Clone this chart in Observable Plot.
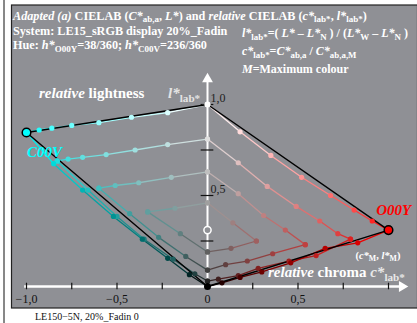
<!DOCTYPE html>
<html><head><meta charset="utf-8">
<script src="https://cdn.jsdelivr.net/npm/d3@7"></script>
<script src="https://cdn.jsdelivr.net/npm/@observablehq/plot@0.6"></script>
<style>body{margin:0;background:#fff;} svg{display:block}</style>
</head><body><div id="chart"></div>
<script>
// ---- data (relative chroma c*, relative lightness l*) ----
const xTicks = [-1, -0.75, -0.5, -0.25, 0, 0.25, 0.5, 0.75, 1];
const xTickValues = [-1, -0.5, 0, 0.5];
const xTickLabels = ["−1,0", "−0,5", "0", "0,5"];
const yTicks = [0.25, 0.5, 0.75, 1];
const yTickValues = [1, 0.5];
const yTickLabels = ["1,0", "0,5"];

const hueNames = ["O00Y", "C00V"];
const hueRGB = [[255, 0, 0], [0, 255, 255]];

// rows 0..8 : rows 0-3 start at the grey axis and run to the max colour side,
// row 4 is the mid grey, rows 5-8 start at the dark greys
const redC = [
  [0, 0.18, 0.35, 0.52, 0.68, 0.81, 0.91, 1.0],
  [0, 0.17, 0.33, 0.49, 0.62, 0.72, 0.79],
  [0, 0.17, 0.31, 0.43, 0.54],
  [0, 0.14, 0.27],
  [0],
  [0, 0.13, 0.27],
  [0, 0.10, 0.22, 0.36, 0.54],
  [0, 0.06, 0.17, 0.28, 0.45, 0.60, 0.79],
  [0, 0.08, 0.18, 0.30, 0.46, 0.65, 0.83, 1.0]
];
const redL = [
  [1.0, 0.85, 0.72, 0.60, 0.50, 0.42, 0.36, 0.31],
  [0.81, 0.68, 0.55, 0.44, 0.36, 0.29, 0.26],
  [0.63, 0.51, 0.39, 0.31, 0.23],
  [0.46, 0.35, 0.25],
  [0.31],
  [0.19, 0.21, 0.25],
  [0.09, 0.12, 0.14, 0.18, 0.23],
  [0.03, 0.04, 0.06, 0.10, 0.14, 0.17, 0.26],
  [0, 0.02, 0.05, 0.08, 0.13, 0.21, 0.24, 0.31]
];
const cyanC = [
  [0, -0.22, -0.42, -0.60, -0.75, -0.86, -0.93, -1.0],
  [0, -0.22, -0.40, -0.56, -0.69, -0.77, -0.83],
  [0, -0.20, -0.38, -0.51, -0.60],
  [0, -0.18, -0.33],
  [0],
  [0, -0.15, -0.33],
  [0, -0.12, -0.27, -0.43, -0.60],
  [0, -0.07, -0.19, -0.35, -0.50, -0.66, -0.83],
  [0, -0.10, -0.22, -0.36, -0.52, -0.69, -0.85, -1.0]
];
const cyanL = [
  [1.0, 0.955, 0.93, 0.90, 0.885, 0.87, 0.86, 0.846],
  [0.81, 0.78, 0.75, 0.725, 0.71, 0.70, 0.69],
  [0.63, 0.60, 0.57, 0.555, 0.54],
  [0.46, 0.43, 0.41],
  [0.31],
  [0.19, 0.29, 0.41],
  [0.09, 0.165, 0.27, 0.40, 0.54],
  [0.03, 0.07, 0.15, 0.26, 0.385, 0.53, 0.69],
  [0, 0.065, 0.155, 0.26, 0.385, 0.53, 0.675, 0.846]
];

// ---- build tables ----
const FONT = "'Liberation Serif', 'DejaVu Serif', serif";
const BG = "#8f9095";
function pointColor(M, j, i, K) {
  const g = 255 * (1 - j / 8);
  if (K === 0) return d3.rgb(g, g, g).formatHex();
  const e = j <= 4 ? j : 8 - j;
  const end = M.map(v => 255 * e / 8 + (1 - 2 * e / 8) * v);
  const t = i / K;
  return d3.rgb(g * (1 - t) + end[0] * t, g * (1 - t) + end[1] * t, g * (1 - t) + end[2] * t).formatHex();
}
const hues = [[redC, redL], [cyanC, cyanL]];
const points = [], segments = [], outlines = [], maxima = [];
hues.forEach(([C, L], h) => {
  C.forEach((row, j) => {
    const K = row.length - 1;
    row.forEach((c, i) => {
      const p = {c, l: L[j][i], color: pointColor(hueRGB[h], j, i, K)};
      points.push(p);
      if (i > 0) {
        const q = points[points.length - 2];
        segments.push({c1: q.c, l1: q.l, c2: p.c, l2: p.l,
          color: d3.interpolateRgb(q.color, p.color)(0.5)});
      }
    });
  });
  const W = {c: C[0][0], l: L[0][0]};
  const M = {c: C[0][C[0].length - 1], l: L[0][L[0].length - 1], color: d3.rgb(...hueRGB[h]).formatHex()};
  const N = {c: C[8][0], l: L[8][0]};
  outlines.push(...[W, M, N].map(p => ({...p, hue: hueNames[h]})));
  maxima.push(M);
});
const whitePt = {c: redC[0][0], l: redL[0][0]};
const blackPt = {c: redC[8][0], l: redL[8][0]};
const lM = {c: 0, l: maxima[0].l};

const svg = Plot.plot({
  width: 417, height: 323,
  marginLeft: 0, marginRight: 0, marginTop: 0, marginBottom: 0,
  x: {domain: [-207 / 181, 210 / 181], axis: null},
  y: {domain: [-37 / 182, 286 / 182], axis: null},
  style: {fontFamily: FONT, background: "white"},
  marks: [
    // axes
    Plot.ruleY([0], {x1: -1.01, x2: 1.07, stroke: "white", strokeWidth: 2.3}),
    Plot.ruleX([0], {y1: 0, y2: 1.13, stroke: "white", strokeWidth: 2}),
    Plot.dot([{c: 1.075, l: 0}], {x: "c", y: "l", symbol: "triangle", rotate: 90, r: 4, fill: "white"}),
    Plot.dot([{c: 0, l: 1.14}], {x: "c", y: "l", symbol: "triangle", r: 4, fill: "white"}),
    Plot.ruleX(xTicks, {y1: -0.018, y2: 0.018, stroke: "#111", strokeWidth: 1.2}),
    Plot.ruleY(yTicks, {x1: -0.035, x2: 0.035, stroke: "#111", strokeWidth: 1.2}),
    Plot.text(xTickValues, {x: d => d, y: -0.068, text: (d, i) => xTickLabels[i], fontSize: 12, fill: "#111"}),
    Plot.text(yTickValues, {x: 0.016, y: d => d + 0.036, text: (d, i) => yTickLabels[i], fontSize: 12, fill: "#222", textAnchor: "start"}),
    // grid lines
    Plot.link(segments, {x1: "c1", y1: "l1", x2: "c2", y2: "l2", stroke: d => d.color, strokeWidth: 1.3}),
    Plot.line(outlines, {x: "c", y: "l", z: "hue", stroke: "black", strokeWidth: 1.4}),
    Plot.dot(points, {x: "c", y: "l", fill: d => d.color, r: 2.6}),
    Plot.dot([lM], {x: "c", y: "l", r: 3.6, fill: BG, stroke: "white", strokeWidth: 1.5}),
    Plot.dot([whitePt], {x: "c", y: "l", r: 3, fill: "white"}),
    Plot.dot([blackPt], {x: "c", y: "l", r: 3.5, fill: "black"}),
    Plot.dot(maxima, {x: "c", y: "l", r: 4.3, fill: d => d.color, stroke: "black", strokeWidth: 1.5})
  ]
});
document.getElementById("chart").appendChild(svg);

// ---- background panel and rich text ----
const S = d3.select(svg);
S.insert("rect", ":first-child").attr("x", 11.5).attr("y", 5).attr("width", 406).attr("height", 303)
  .attr("fill", BG).attr("stroke", "#222").attr("stroke-width", 1.2);
S.insert("line", ":first-child").attr("x1", 4).attr("x2", 4).attr("y1", 0).attr("y2", 323)
  .attr("stroke", "#111").attr("stroke-width", 1);
const sx = svg.scale("x"), sy = svg.scale("y");

function rich(x, y, parts, {size = 12, fill = "white", weight = "bold", anchor = "start", drop = 0.28} = {}) {
  const t = S.append("text").attr("x", x).attr("y", y).attr("font-family", FONT)
    .attr("font-size", size).attr("font-weight", weight).attr("fill", fill).attr("text-anchor", anchor);
  let shift = 0;
  for (const [s, st = "", col] of parts) {
    const f = st.split(" ");
    const ts = t.append("tspan").text(s);
    const target = f.includes("sub") ? size * drop : 0;
    if (target !== shift) { ts.attr("dy", target - shift); shift = target; }
    if (f.includes("sub")) ts.attr("font-size", size * 0.74);
    if (f.includes("i")) ts.attr("font-style", "italic");
    if (col) ts.attr("fill", col);
  }
  return t;
}
// title block
rich(13, 19.5, [["Adapted (a)", "i"], [" CIELAB ("], ["C*", "i"], ["ab,a", "sub"], [", "], ["L*", "i"], [") and "],
  ["relative", "i"], [" CIELAB ("], ["c*", "i"], ["lab*", "sub"], [", "], ["l*", "i"], ["lab*", "sub"], [")"]], {size: 12.2, drop: 0.22});
rich(13, 34.5, [["System: LE15_sRGB display 20%_Fadin"]], {size: 12.2});
rich(13, 48.5, [["Hue: "], ["h*", "i"], ["O00Y", "sub"], ["=38/360; "], ["h*", "i"], ["C00V", "sub"], ["=236/360"]], {size: 12.2});
rich(242, 37, [["l*", "i"], ["lab*", "sub"], ["=( "], ["L*", "i"], [" – "], ["L*", "i"], ["N", "sub"], [" ) / ("],
  ["L*", "i"], ["W", "sub"], [" – "], ["L*", "i"], ["N", "sub"], [" )"]]);
rich(242, 54.5, [["c*", "i"], ["lab*", "sub"], ["="], ["C*", "i"], ["ab,a", "sub"], [" / "], ["C*", "i"], ["ab,a,M", "sub"]]);
rich(242, 73, [["M", "i"], ["=Maximum colour"]]);

// labels in the chart
rich(sx.apply(-0.928), sy.apply(1.031), [["relative", "i"], [" lightness"]], {size: 15});
rich(sx.apply(-0.215), sy.apply(1.033), [["l*", "i"], ["lab*", "sub"]], {size: 15, fill: "#e4e4e4"});
rich(sx.apply(-0.995), sy.apply(0.709), [["C00V", "i"]], {size: 15, fill: "#00ffff"});
rich(sx.apply(0.935), sy.apply(0.39), [["O00Y", "i"]], {size: 15, fill: "#ff0000"});
rich(sx.apply(0.337), sy.apply(0.05), [["relative", "i"], [" chroma "], ["c*", "i", "#e8e8e8"], ["lab*", "sub", "#e8e8e8"]], {size: 15});
rich(sx.apply(0.82), sy.apply(0.15), [["("], ["c*", "i"], ["M", "sub"], [", "], ["l*", "i"], ["M", "sub"], [")"]], {size: 10.5, drop: 0.22});

// caption
rich(35, 320, [["LE150−5N, 20%_Fadin 0"]], {size: 10, fill: "#111", weight: "normal"});
</script>
</body></html>
